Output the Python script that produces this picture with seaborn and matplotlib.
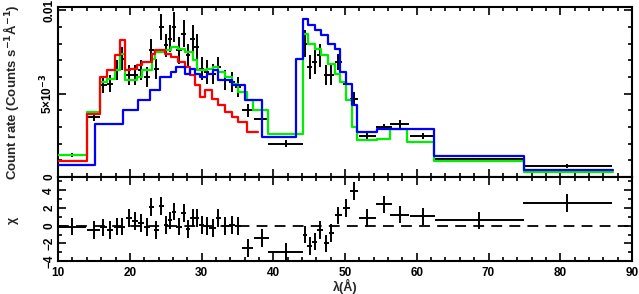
import matplotlib
matplotlib.use("Agg")
import matplotlib.pyplot as plt
import pandas as pd
import seaborn as sns
from matplotlib.ticker import MultipleLocator

# observed spectrum: bin centre, half width, rate, rate error, residual (chi)
lam = [12.0, 14.95, 16.3, 17.2, 18.2, 18.95, 19.9, 20.7, 21.55, 22.35,
       23.0, 23.7, 24.4, 25.05, 25.6, 26.15, 26.85, 27.5, 28.1, 28.75,
       29.3, 30.0, 30.7, 31.55, 32.35, 33.3, 34.25, 35.1, 36.4, 38.4,
       41.7, 44.4, 45.1, 45.75, 46.55, 47.4, 48.1, 49.05, 50.2, 51.3,
       53.1, 55.4, 57.6, 60.8, 68.7, 81.0]
lam_hw = [1.9, 0.9, 0.45, 0.45, 0.4, 0.4, 0.4, 0.4, 0.4, 0.4,
          0.3, 0.35, 0.35, 0.3, 0.3, 0.3, 0.35, 0.35, 0.3, 0.35,
          0.3, 0.35, 0.35, 0.45, 0.4, 0.5, 0.45, 0.45, 0.8, 1.05,
          2.4, 0.3, 0.35, 0.3, 0.4, 0.35, 0.35, 0.5, 0.5, 0.55,
          1.2, 1.1, 1.3, 1.8, 6.2, 6.25]
rate = [0.00131, 0.0036, 0.00555, 0.0056, 0.0064, 0.0071, 0.0061, 0.0061, 0.0064, 0.0060,
        0.0076, 0.0065, 0.0090, 0.0079, 0.0083, 0.0090, 0.0076, 0.0086, 0.0073, 0.0083,
        0.0078, 0.0065, 0.0063, 0.0062, 0.0066, 0.0058, 0.0057, 0.0054, 0.0040, 0.0035,
        0.0020, 0.0080, 0.0066, 0.0069, 0.0073, 0.0061, 0.0061, 0.0069, 0.0056, 0.0047,
        0.00244, 0.0030, 0.0032, 0.00244, 0.00105, 0.00065]
rate_err = [0.00012, 0.00025, 0.0005, 0.0005, 0.0006, 0.0007, 0.0006, 0.0006, 0.0006, 0.0006,
            0.0007, 0.0006, 0.0008, 0.0007, 0.0008, 0.0009, 0.0008, 0.0008, 0.0007, 0.0008,
            0.0008, 0.0007, 0.0007, 0.0006, 0.0006, 0.0006, 0.0006, 0.0006, 0.0004, 0.0004,
            0.0002, 0.0008, 0.0007, 0.0007, 0.0007, 0.0006, 0.0006, 0.0005, 0.0005, 0.0004,
            0.0002, 0.0002, 0.00025, 0.00018, 0.0001, 0.0001]
chi = [-0.1, -0.5, -0.2, -0.45, -0.1, -0.1, 0.9, 0.5, 0.3, -0.15,
       2.1, -0.5, 2.2, 0.1, 0.6, 1.6, -0.1, 1.4, -0.4, 0.9,
       0.9, 0.1, 0.0, -0.3, 0.85, -0.05, 0.05, -0.05, -2.5, -1.4,
       -3.0, -1.0, -2.3, -1.8, -0.45, -2.0, -0.85, 1.15, 2.0, 3.9,
       0.9, 2.4, 1.25, 1.05, 0.6, 2.6]

# model histograms: bin edges and level in each bin
red_edges = [10, 14.0, 15.85, 16.8, 17.9, 18.6, 19.3, 20.0, 21.0, 21.7, 23.05, 23.5,
             24.9, 25.8, 26.75, 27.7, 28.4, 29.1, 29.8, 30.5, 31.4, 32.3, 33.3, 34.2,
             35.1, 36.3, 37.9]
red_vals = [0.00095, 0.0038, 0.0060, 0.0064, 0.0073, 0.0082, 0.0064, 0.0065, 0.0067,
            0.0069, 0.0074, 0.0076, 0.0074, 0.0072, 0.0069, 0.0066, 0.0061, 0.0055,
            0.0048, 0.0052, 0.0047, 0.0043, 0.0039, 0.0036, 0.0033, 0.0027]

green_edges = [10, 14.0, 15.85, 16.8, 17.9, 18.6, 19.3, 20.0, 21.0, 21.7, 23.05, 23.5,
               24.9, 25.8, 26.75, 27.7, 28.8, 29.4, 30.8, 31.6, 32.3, 33.3, 34.2, 35.1,
               36.3, 37.2, 39.3, 44.1, 44.9, 45.8, 46.7, 47.6, 48.6, 49.3, 50.2, 50.9,
               51.6, 54.4, 56.3, 58.6, 62.4, 74.9, 87.3]
green_vals = [0.0013, 0.0039, 0.0057, 0.0059, 0.0064, 0.0074, 0.0058, 0.0058, 0.0060,
              0.0064, 0.0071, 0.0075, 0.0076, 0.0078, 0.0077, 0.0075, 0.0070, 0.0064,
              0.0065, 0.0066, 0.0063, 0.0060, 0.0056, 0.0051, 0.0046, 0.0040, 0.0026,
              0.0086, 0.0080, 0.0077, 0.0073, 0.0068, 0.0062, 0.0057, 0.0046, 0.0030,
              0.0022, 0.0023, 0.0029, 0.0021, 0.00095, 0.00032]

blue_edges = [10, 15.15, 19.1, 21.2, 22.8, 24.2, 25.8, 26.5, 27.7, 28.4, 29.1, 29.8,
              30.8, 31.6, 32.3, 34.2, 36.0, 38.4, 43.2, 44.1, 44.9, 45.8, 46.7, 47.6,
              48.6, 49.3, 50.2, 50.9, 51.6, 54.4, 62.4, 74.9, 87.3]
blue_vals = [0.0007, 0.0032, 0.0040, 0.0046, 0.0052, 0.0060, 0.0063, 0.0066, 0.0062,
             0.0065, 0.0062, 0.0060, 0.0062, 0.0064, 0.0058, 0.0055, 0.0046, 0.0024,
             0.0071, 0.0095, 0.0091, 0.0088, 0.0085, 0.0080, 0.0077, 0.0063, 0.0056,
             0.0043, 0.0027, 0.0029, 0.00125, 0.00042]


def step_frame(edges, vals):
    return pd.DataFrame({"lam": edges, "rate": list(vals) + [vals[-1]]})


sns.set_theme(style="ticks")
plt.rcParams["font.family"] = ["Liberation Sans", "DejaVu Sans"]
plt.rcParams["font.weight"] = "bold"
plt.rcParams["font.size"] = 8.5

fig = plt.figure(figsize=(6.39, 2.94), dpi=100)
ax = fig.add_axes([0.091, 0.398, 0.898, 0.578])
axr = fig.add_axes([0.091, 0.112, 0.898, 0.286], sharex=ax)

ax.errorbar(lam, rate, xerr=lam_hw, yerr=rate_err, fmt="none",
            ecolor="black", elinewidth=1.4, capsize=0, zorder=2)
for edges, vals, col in [(green_edges, green_vals, "#00ee00"),
                         (red_edges, red_vals, "#ff0000"),
                         (blue_edges, blue_vals, "#0000ff")]:
    sns.lineplot(data=step_frame(edges, vals), x="lam", y="rate", ax=ax,
                 color=col, linewidth=1.6, drawstyle="steps-post",
                 estimator=None, sort=False, zorder=3)

axr.errorbar(lam, chi, xerr=lam_hw, yerr=[1.0] * len(lam), fmt="none",
             ecolor="black", elinewidth=1.4, capsize=0)
axr.axhline(0, color="black", linestyle=(0, (6, 4)), linewidth=1.3)

ax.set_xlim(10, 90)
ax.set_ylim(0, 0.0102)
axr.set_ylim(-4, 5.5)

ax.set_yticks([0, 0.005, 0.01])
ax.set_yticklabels(["0", "5×10$^{-3}$", "0.01"])
ax.yaxis.set_minor_locator(MultipleLocator(0.001))
axr.set_yticks([-4, -2, 0, 2, 4])
axr.set_yticklabels(["−4", "−2", "0", "2", "4"])
axr.yaxis.set_minor_locator(MultipleLocator(1))
axr.xaxis.set_major_locator(MultipleLocator(10))
axr.xaxis.set_minor_locator(MultipleLocator(2))

for a in (ax, axr):
    a.tick_params(which="both", direction="in", top=True, right=True,
                  width=1.2, colors="black", labelsize=8.5)
    a.tick_params(which="major", length=6)
    a.tick_params(which="minor", length=3)
    a.tick_params(axis="y", labelrotation=90, pad=2)
    a.tick_params(axis="x", pad=4)
    for lab in a.get_yticklabels():
        lab.set_va("center")
    for s in a.spines.values():
        s.set_linewidth(1.5)
        s.set_color("black")
    a.set_ylabel("")
    a.set_xlabel("")
ax.tick_params(labelbottom=False)

axr.set_xlabel("λ(Å)", fontweight="bold", fontsize=9, labelpad=0)
fig.text(0.017, 0.685, "Count rate (Counts s$^{-1}$Å$^{-1}$)", rotation=90,
         ha="center", va="center", fontweight="bold", fontsize=9.5)
fig.text(0.02, 0.25, "χ", rotation=90, ha="center", va="center",
         fontweight="bold", fontsize=9)

fig.savefig("out.png", dpi=100)
